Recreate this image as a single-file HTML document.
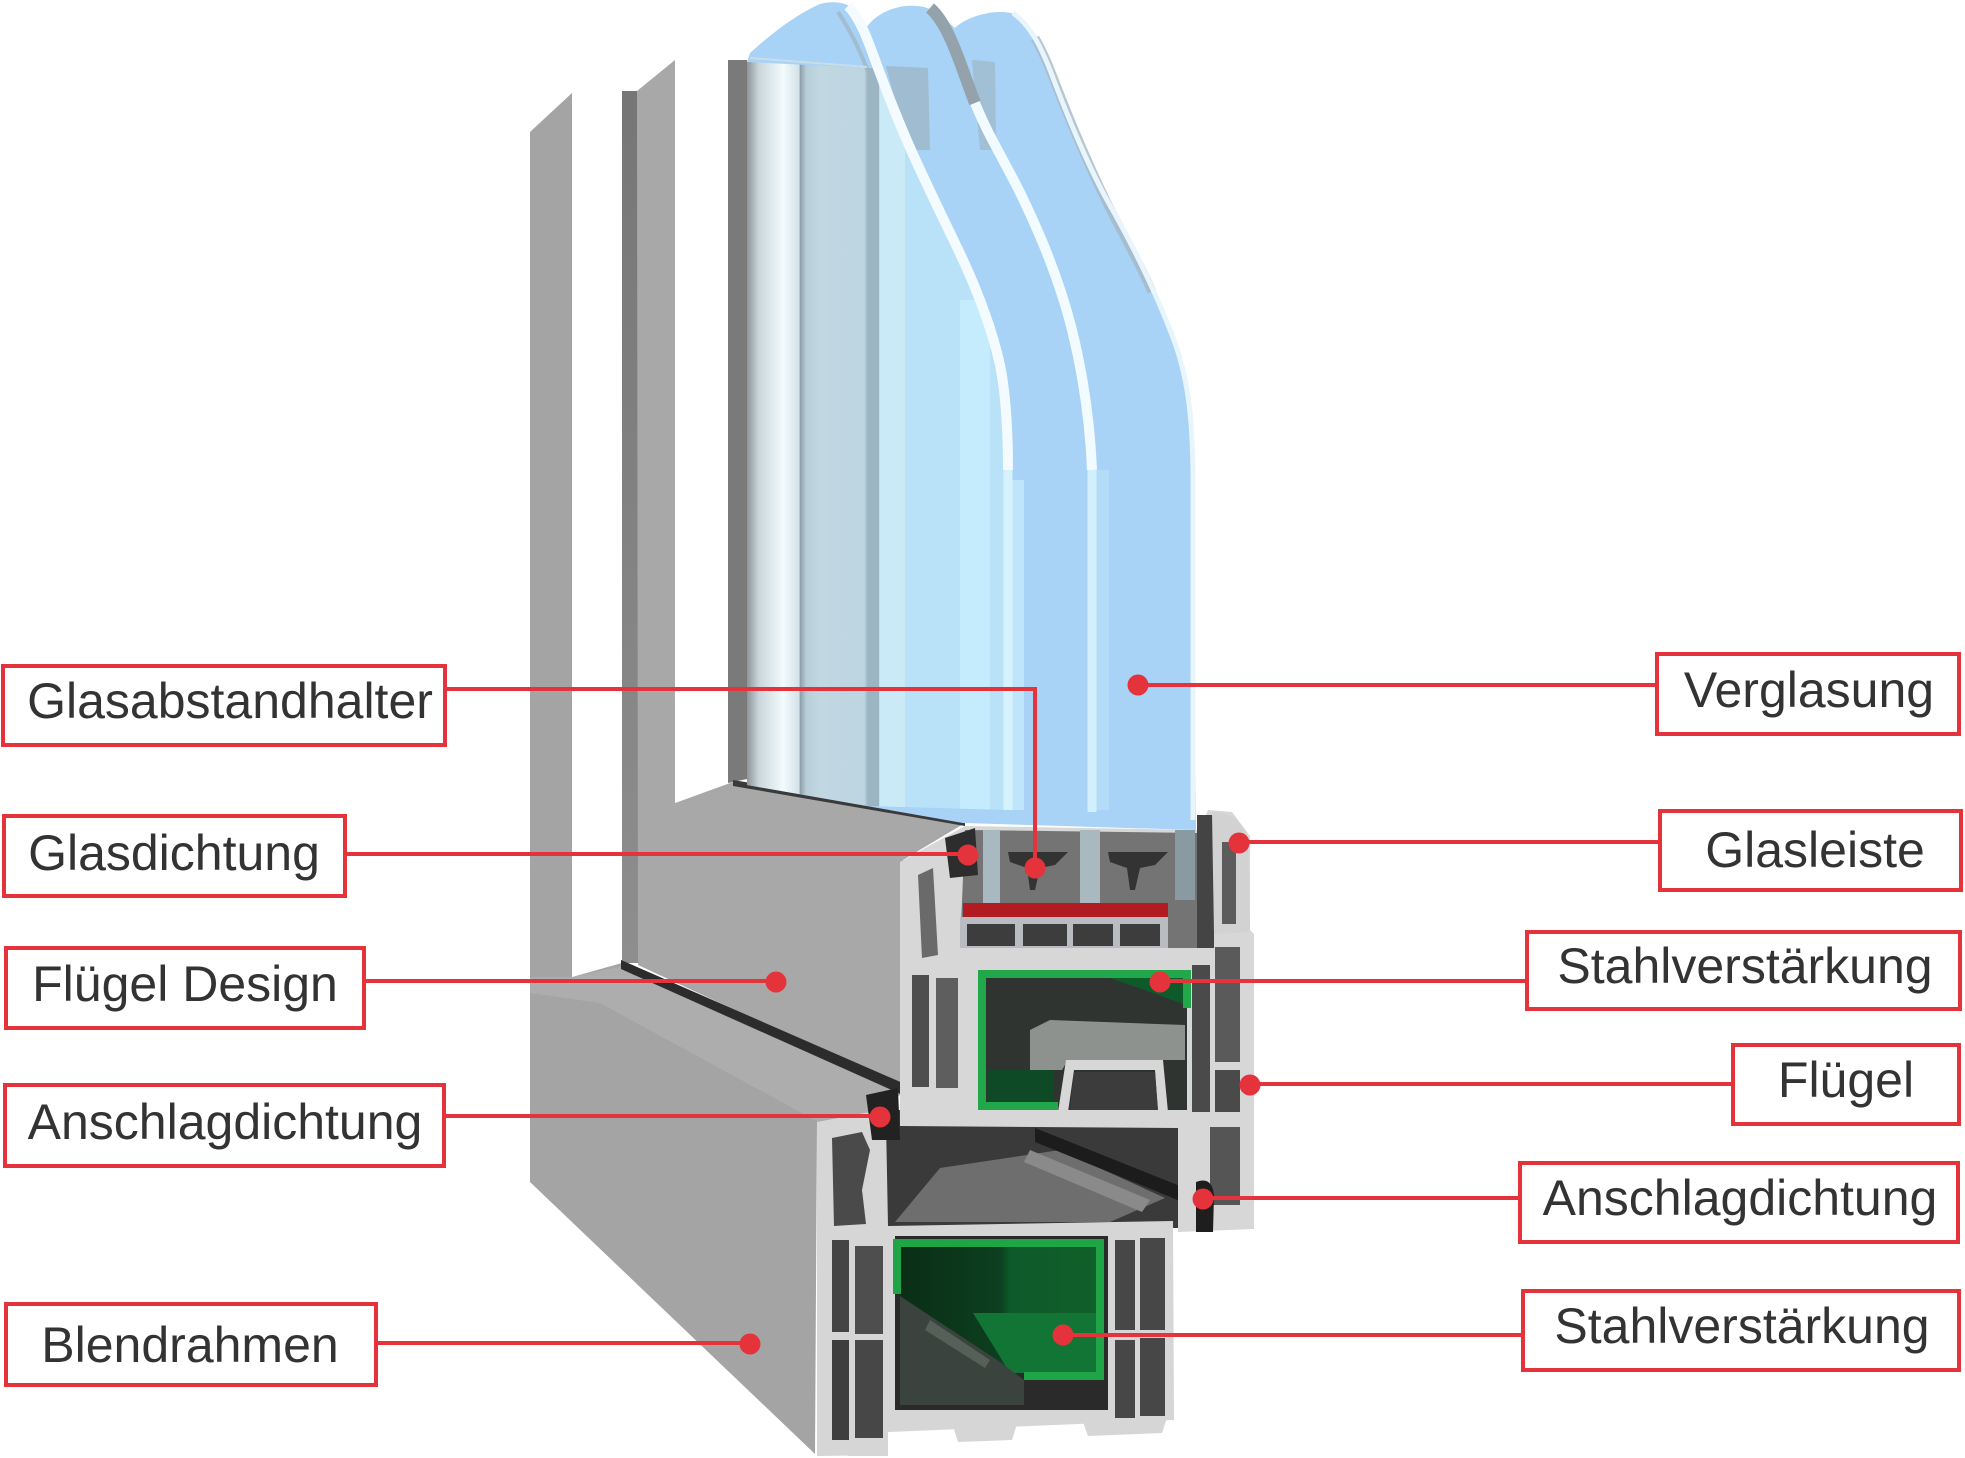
<!DOCTYPE html>
<html><head><meta charset="utf-8">
<style>
html,body{margin:0;padding:0;background:#fff;}
svg{display:block;}
text{font-family:"Liberation Sans",Arial,sans-serif;font-size:50px;fill:#333;}
</style></head><body>
<svg width="1965" height="1458" viewBox="0 0 1965 1458" xmlns="http://www.w3.org/2000/svg">
<defs>
<linearGradient id="gs" x1="747" y1="0" x2="868" y2="0" gradientUnits="userSpaceOnUse">
<stop offset="0" stop-color="#8f9598"/>
<stop offset="0.1" stop-color="#c9d7dd"/>
<stop offset="0.3" stop-color="#f3fbfd"/>
<stop offset="0.43" stop-color="#d3e2e8"/>
<stop offset="0.44" stop-color="#8ea1ab"/>
<stop offset="0.49" stop-color="#b7cdd8"/>
<stop offset="0.6" stop-color="#c1d8e3"/>
<stop offset="0.97" stop-color="#bdd5e0"/>
<stop offset="1" stop-color="#9cb3c0"/>
</linearGradient>
<linearGradient id="dstrip" x1="0" y1="91" x2="0" y2="963" gradientUnits="userSpaceOnUse">
<stop offset="0" stop-color="#767676"/><stop offset="1" stop-color="#8e8e8e"/>
</linearGradient>
<linearGradient id="gr" x1="900" y1="0" x2="1100" y2="0" gradientUnits="userSpaceOnUse">
<stop offset="0" stop-color="#0a2e16"/><stop offset="0.5" stop-color="#0c3f1f"/><stop offset="0.55" stop-color="#0f5a2a"/><stop offset="1" stop-color="#106029"/>
</linearGradient>
<clipPath id="p1clip"><path d="M868,68 L878,68 C888,95 898,120 908,143 C922,175 940,212 955,243 C972,278 990,320 1000,365 C1006,395 1008,430 1008,470 L1008,810 L868,806 Z"/></clipPath>
</defs>

<!-- Blendrahmen face -->
<polygon points="530,132 572,93 572,977 623,962 905,1090 880,1114 817,1122 815,1454 530,1182" fill="#a4a4a4"/>
<polygon points="530,977 572,977 623,966 900,1094 880,1114 822,1124 600,1003 530,993" fill="#adadad"/>
<polygon points="572,93 622,93 622,963 572,977" fill="#ffffff"/>
<rect x="622" y="91" width="16" height="872" fill="url(#dstrip)"/>

<!-- Sash face -->
<polygon points="637,91 675,60 675,803 733,782 965,823 903,860 903,1088 638,965" fill="#a8a8a8"/>
<polygon points="675,60 728,60 728,783 675,803" fill="#ffffff"/>
<polygon points="728,60 747,60 747,779 728,783" fill="#7a7a7a"/>
<polygon points="733,780 965,819 965,826 733,786" fill="#3a3a3a"/>
<polygon points="621,960 905,1084 905,1096 621,969" fill="#2c2c2c"/>

<!-- Glass -->
<path d="M747,62 L750,53 C770,35 795,15 820,4 C835,0 848,3 855,10 L866,28 C875,15 890,8 905,6 C920,5 930,7 940,15 L955,28 C965,18 985,12 1000,12 C1010,12 1018,14 1023,20 C1033,32 1040,45 1050,70 C1065,110 1085,160 1107,200 C1130,240 1155,290 1172,335 C1188,375 1193,420 1193,480 L1196,830 L963,823 L747,785 Z" fill="#a8d2f6"/>
<polygon points="747,62 868,68 868,806 747,785" fill="url(#gs)"/>
<path d="M868,68 L878,68 C888,95 898,120 908,143 C922,175 940,212 955,243 C972,278 990,320 1000,365 C1006,395 1008,430 1008,470 L1008,810 L868,806 Z" fill="#b9e2f9"/>
<g clip-path="url(#p1clip)">
<rect x="868" y="60" width="11" height="760" fill="#9cb5c2"/>
<rect x="880" y="60" width="25" height="760" fill="#cbeaf7"/>
<rect x="960" y="300" width="30" height="520" fill="#c4ecfc"/>
</g>
<!-- gray spacer bands near top -->
<polygon points="886,66 928,68 930,150 908,150" fill="#9db2c0" opacity="0.7"/>
<polygon points="972,60 995,62 996,150 980,150" fill="#9cb2bf" opacity="0.6"/>
<rect x="1010" y="480" width="14" height="330" fill="#c4eafc" opacity="0.8"/>
<rect x="1095" y="470" width="14" height="340" fill="#b7def9" opacity="0.8"/>
<!-- pane highlights -->
<path d="M848,6 C860,18 868,40 878,68 C888,95 898,120 908,143 C922,175 940,212 955,243 C972,278 990,320 1000,365 C1006,395 1008,430 1008,470" fill="none" stroke="#f4fbff" stroke-width="10"/>
<path d="M838,12 C850,30 860,50 868,72" fill="none" stroke="#9fb3bf" stroke-width="4" opacity="0.7"/>
<path d="M1008,470 L1008,810" fill="none" stroke="#d6f2fc" stroke-width="9"/>
<path d="M930,8 C950,25 962,70 975,103" fill="none" stroke="#94a3ab" stroke-width="12"/>
<path d="M975,103 C990,140 1010,170 1025,203 C1045,245 1062,290 1072,330 C1083,375 1090,420 1092,470" fill="none" stroke="#f2fbff" stroke-width="10"/>
<path d="M1092,470 L1092,812" fill="none" stroke="#d2f0fc" stroke-width="9"/>
<path d="M1035,38 C1045,55 1052,75 1062,100 C1077,138 1092,172 1109,207 C1125,238 1142,268 1152,292" fill="none" stroke="#a5b8c3" stroke-width="9" opacity="0.8"/>
<path d="M1013,13 C1030,25 1040,45 1050,70 C1065,110 1085,160 1107,200 C1130,240 1155,290 1172,335 C1188,375 1193,420 1193,480 L1193,820" fill="none" stroke="#e8f5fc" stroke-width="5"/>
<line x1="750" y1="58" x2="867" y2="67" stroke="#c8dde8" stroke-width="2"/>

<!-- Gap region between sash and frame -->
<polygon points="880,1110 1180,1110 1180,1228 880,1228" fill="#3a3a3a"/>
<polygon points="895,1222 1110,1222 1165,1198 1060,1150 940,1168" fill="#6e6e6e"/>
<polygon points="1035,1128 1190,1190 1190,1205 1035,1142" fill="#1c1c1c"/>
<polygon points="1030,1150 1150,1200 1142,1212 1024,1162" fill="#8a8a8a"/>

<!-- Sash cross-section -->
<polygon points="900,862 965,826 1200,830 1208,810 1232,812 1250,836 1250,930 1254,934 1254,1229 1178,1232 1178,1128 900,1126" fill="#d7d7d7"/>
<polygon points="965,830 1198,833 1198,948 960,948" fill="#747474"/>
<rect x="983" y="830" width="17" height="75" fill="#a9b9c2"/>
<rect x="1080" y="830" width="20" height="75" fill="#aab8bf"/>
<rect x="1175" y="830" width="20" height="70" fill="#8a9aa3"/>
<polygon points="1008,852 1068,852 1055,865 1040,868 1035,890 1030,890 1027,868 1010,862" fill="#333"/>
<polygon points="1108,852 1168,852 1155,865 1140,868 1135,890 1130,890 1127,868 1110,862" fill="#333"/>
<rect x="963" y="903" width="205" height="14" fill="#b01c22"/>
<rect x="960" y="917" width="208" height="31" fill="#b9bdc2"/>
<rect x="967" y="924" width="48" height="22" fill="#3d3d3d"/>
<rect x="1023" y="924" width="44" height="22" fill="#3d3d3d"/>
<rect x="1073" y="924" width="40" height="22" fill="#3d3d3d"/>
<rect x="1120" y="924" width="40" height="22" fill="#3d3d3d"/>
<!-- glasleiste -->
<rect x="1197" y="815" width="17" height="133" fill="#444"/>
<path d="M1212,812 Q1240,812 1248,840 L1250,932 L1214,934 Z" fill="#d2d2d2"/>
<rect x="1222" y="842" width="14" height="82" fill="#5c5c5c"/>
<!-- glasdichtung gasket -->
<polygon points="945,838 975,828 978,875 950,878" fill="#2d2d2d"/>
<!-- left chambers -->
<polygon points="918,875 933,868 938,955 922,958" fill="#6a6a6a"/>
<rect x="912" y="975" width="17" height="112" fill="#4e4e4e"/>
<rect x="936" y="978" width="22" height="110" fill="#5e5e5e"/>
<!-- green chamber -->
<rect x="978" y="970" width="209" height="140" fill="#2f3431"/>
<polygon points="987,1070 1053,1070 1053,1107 987,1107" fill="#0e4a26"/>
<polygon points="1030,1030 1050,1020 1185,1025 1185,1060 1068,1060 1062,1070 1030,1070" fill="#8e928f"/>
<polygon points="1058,1112 1066,1060 1163,1060 1168,1112 1158,1112 1155,1070 1074,1070 1068,1112" fill="#d7d7d7"/>
<polygon points="1074,1072 1155,1072 1158,1110 1070,1110" fill="#3c3c3c"/>
<path d="M1187,1008 L1187,974 L982,974 L982,1106 L1058,1106" fill="none" stroke="#22a84a" stroke-width="8"/>
<polygon points="1110,978 1183,978 1183,1004 1150,992" fill="#0f5a2a"/>
<!-- right chambers -->
<rect x="1192" y="965" width="18" height="147" fill="#4a4a4a"/>
<rect x="1215" y="947" width="25" height="115" fill="#5a5a5a"/>
<rect x="1215" y="1070" width="25" height="42" fill="#4a4a4a"/>
<rect x="1210" y="1127" width="30" height="78" fill="#555"/>
<path d="M1196,1182 Q1212,1176 1214,1195 L1213,1232 L1196,1232 Z" fill="#1e1e1e"/>

<!-- Frame cross-section -->
<polygon points="817,1122 870,1112 886,1122 888,1226 1173,1221 1174,1420 888,1432 888,1455 817,1456" fill="#d6d6d6"/>
<rect x="848" y="1430" width="40" height="26" fill="#d6d6d6"/>
<polygon points="953,1426 1017,1424 1012,1440 958,1442" fill="#d6d6d6"/>
<polygon points="1083,1422 1167,1418 1162,1433 1088,1436" fill="#d6d6d6"/>
<polygon points="832,1138 862,1132 870,1150 862,1190 866,1224 834,1226" fill="#4a4a4a"/>
<polygon points="866,1095 898,1088 900,1140 872,1140" fill="#222"/>
<rect x="832" y="1240" width="17" height="92" fill="#444"/>
<rect x="855" y="1246" width="28" height="88" fill="#4e4e4e"/>
<rect x="832" y="1340" width="17" height="100" fill="#3e3e3e"/>
<rect x="855" y="1340" width="28" height="98" fill="#474747"/>
<rect x="895" y="1236" width="213" height="174" fill="#2a2a2a"/>
<rect x="900" y="1246" width="198" height="127" fill="url(#gr)"/>
<polygon points="973,1313 1098,1313 1098,1373 1010,1373" fill="#137535"/>
<polygon points="900,1296 1000,1362 1024,1380 1024,1405 900,1405" fill="#3a433d"/>
<polygon points="930,1320 990,1360 985,1368 925,1330" fill="#556058"/>
<path d="M897,1294 L897,1243 L1100,1243 L1100,1376 L1024,1376" fill="none" stroke="#1fa447" stroke-width="8"/>
<rect x="1115" y="1240" width="20" height="90" fill="#474747"/>
<rect x="1140" y="1238" width="25" height="92" fill="#474747"/>
<rect x="1115" y="1340" width="20" height="78" fill="#474747"/>
<rect x="1140" y="1338" width="25" height="78" fill="#474747"/>

<!-- Connectors -->
<g fill="none" stroke="#e5333b" stroke-width="4">
<path d="M447,689 H1035 V868"/>
<path d="M347,854 H968"/>
<path d="M366,981 H776"/>
<path d="M446,1116 H880"/>
<path d="M378,1343 H750"/>
<path d="M1138,685 H1655"/>
<path d="M1239,842 H1658"/>
<path d="M1160,981 H1525"/>
<path d="M1250,1084 H1731"/>
<path d="M1203,1198 H1518"/>
<path d="M1063,1335 H1521"/>
</g>
<g fill="#e5333b">
<circle cx="1035" cy="868" r="10.5"/>
<circle cx="968" cy="855" r="10.5"/>
<circle cx="776" cy="982" r="10.5"/>
<circle cx="880" cy="1117" r="10.5"/>
<circle cx="750" cy="1344" r="10.5"/>
<circle cx="1138" cy="685" r="10.5"/>
<circle cx="1239" cy="843" r="10.5"/>
<circle cx="1160" cy="982" r="10.5"/>
<circle cx="1250" cy="1085" r="10.5"/>
<circle cx="1203" cy="1199" r="10.5"/>
<circle cx="1063" cy="1335" r="10.5"/>
</g>

<!-- Label boxes -->
<g fill="#fff" stroke="#e5333b" stroke-width="4">
<rect x="3" y="666" width="442" height="79"/>
<rect x="4" y="816" width="341" height="80"/>
<rect x="6" y="948" width="358" height="80"/>
<rect x="5" y="1085" width="439" height="81"/>
<rect x="6" y="1304" width="370" height="81"/>
<rect x="1657" y="654" width="302" height="80"/>
<rect x="1660" y="811" width="301" height="79"/>
<rect x="1527" y="932" width="433" height="77"/>
<rect x="1733" y="1045" width="226" height="79"/>
<rect x="1520" y="1163" width="438" height="79"/>
<rect x="1523" y="1291" width="436" height="79"/>
</g>
<g text-anchor="middle">
<text x="230" y="718">Glasabstandhalter</text>
<text x="174" y="870">Glasdichtung</text>
<text x="185" y="1001">Flügel Design</text>
<text x="225" y="1139">Anschlagdichtung</text>
<text x="190" y="1362">Blendrahmen</text>
<text x="1809" y="707">Verglasung</text>
<text x="1815" y="867">Glasleiste</text>
<text x="1745" y="983">Stahlverstärkung</text>
<text x="1846" y="1097">Flügel</text>
<text x="1740" y="1215">Anschlagdichtung</text>
<text x="1742" y="1343">Stahlverstärkung</text>
</g>
</svg>
</body></html>
